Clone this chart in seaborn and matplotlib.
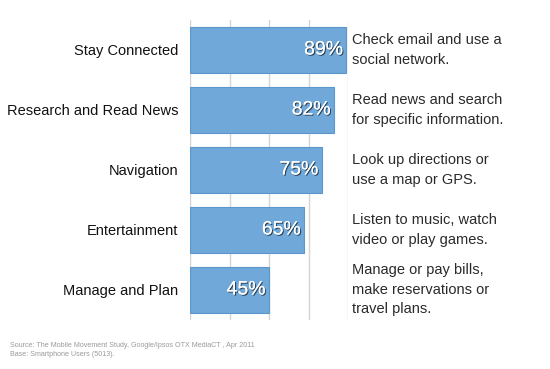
import pandas as pd
import seaborn as sns
import matplotlib
matplotlib.use('Agg')
import matplotlib.pyplot as plt
import matplotlib.patheffects as pe

# Data
categories = ['Stay Connected', 'Research and Read News', 'Navigation', 'Entertainment', 'Manage and Plan']
values = [89, 82, 75, 65, 45]
descriptions = [
    'Check email and use a\nsocial network.',
    'Read news and search\nfor specific information.',
    'Look up directions or\nuse a map or GPS.',
    'Listen to music, watch\nvideo or play games.',
    'Manage or pay bills,\nmake reservations or\ntravel plans.',
]
source_lines = 'Source: The Mobile Movement Study, Google/Ipsos OTX MediaCT , Apr 2011\nBase: Smartphone Users (5013).'

df = pd.DataFrame({'Category': categories, 'Value': values})

sns.set_style('white')
plt.rcParams['font.family'] = ['Liberation Sans', 'DejaVu Sans']

fig = plt.figure(figsize=(5.5, 3.69), dpi=100)
ax = fig.add_axes([0.3455, 0.1328, 0.2873, 0.813])

sns.barplot(data=df, x='Value', y='Category', orient='h', color='#6fa8d9',
            width=0.77, edgecolor='#5b97cc', linewidth=0.8, saturation=1, ax=ax, zorder=3)

ax.set_xlim(0, 90)
ax.set_ylim(4.5, -0.5)
ax.set_xticks([0, 22.5, 45, 67.5, 90])
ax.xaxis.grid(True, color='#d4d4d4', linewidth=1)
ax.set_axisbelow(True)
ax.tick_params(axis='x', length=0, labelbottom=False)
ax.tick_params(axis='y', length=0, labelsize=10.5, pad=8.5, labelcolor='#111111')
for s in ax.spines.values():
    s.set_visible(False)
ax.set_xlabel('')
ax.set_ylabel('')

shadow = [pe.withSimplePatchShadow(offset=(0.8, -0.8), shadow_rgbFace='black', alpha=0.6), pe.Normal()]
for i, (v, d) in enumerate(zip(values, descriptions)):
    ax.text(v - 1.8, i, f'{v}%', ha='right', va='center', color='white', fontsize=14,
            path_effects=shadow, zorder=5)
    ax.text(92, i, d, ha='left', va='center', color='#2a2a2a', fontsize=10.5,
            linespacing=1.5, clip_on=False)

fig.text(0.018, 0.03, source_lines, ha='left', va='bottom', color='#9a9a9a', fontsize=5.1,
         linespacing=1.35)

fig.savefig('out.png', dpi=100)
